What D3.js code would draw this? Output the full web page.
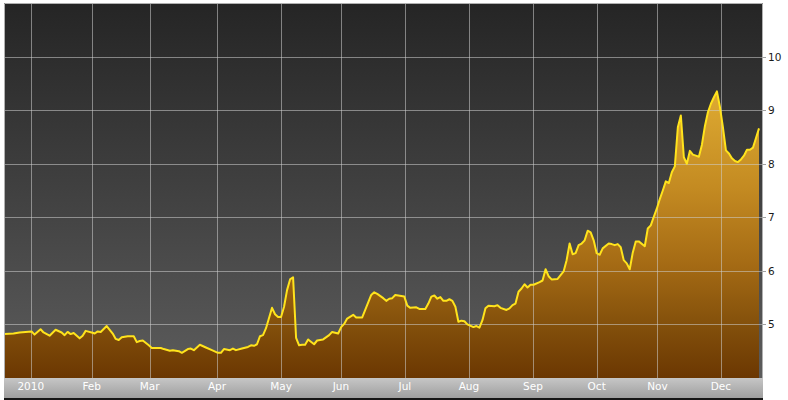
<!DOCTYPE html>
<html><head><meta charset="utf-8">
<script src="https://cdn.jsdelivr.net/npm/d3@7/dist/d3.min.js"></script>
<style>html,body{margin:0;padding:0;background:#fff;}svg{display:block}</style>
</head><body>
<svg id="c" width="788" height="400"></svg>
<script>
// trading-day index of each reading and the value read
const dayIdx = [0,3,5,7,9,10,12,13,15,17,19,20,21,22,23,25,26,27,29,30,31,32,34,36,37,38,39,41,43,44,45,46,48,49,52,53,55,56,58,59,61,62,63,65,67,69,71,72,73,75,76,77,79,81,82,83,84,85,86,87,89,90,91,92,93,94,95,96,97,98,99,100,101,103,104,106,108,109,111,112,113,114,116,117,119,120,122,123,124,126,127,128,129,130,131,133,134,135,137,138,140,141,142,143,144,145,146,147,148,149,150,151,152,153,154,156,157,158,159,160,161,163,164,165,167,168,169,170,171,172,173,174,175,176,178,179,180,181,182,184,185,186,187,188,189,190,191,192,193,194,195,196,197,198,199,201,202,203,204,205,206,207,208,209,210,211,213,214,215,216,217,218,219,220,221,222,223,224,225,226,227,228,229,230,231,232,233,234,235,236,237,238,239,240,241,242,243,244,245,246,247,248,249,250,251];
const values = [4.82,4.83,4.85,4.86,4.87,4.81,4.91,4.85,4.79,4.90,4.85,4.80,4.86,4.82,4.84,4.74,4.79,4.88,4.85,4.83,4.87,4.86,4.97,4.83,4.73,4.71,4.76,4.78,4.78,4.67,4.69,4.70,4.61,4.56,4.56,4.54,4.51,4.52,4.50,4.47,4.54,4.55,4.52,4.62,4.57,4.52,4.47,4.47,4.54,4.52,4.55,4.52,4.55,4.58,4.61,4.60,4.63,4.78,4.80,4.93,5.31,5.19,5.14,5.14,5.33,5.64,5.84,5.88,4.75,4.61,4.62,4.62,4.72,4.63,4.70,4.72,4.80,4.86,4.83,4.95,5.01,5.11,5.18,5.13,5.13,5.27,5.55,5.60,5.57,5.49,5.44,5.48,5.49,5.55,5.54,5.52,5.35,5.31,5.32,5.29,5.29,5.39,5.52,5.54,5.48,5.51,5.44,5.44,5.47,5.44,5.33,5.05,5.07,5.06,5.00,4.95,4.97,4.94,5.08,5.30,5.35,5.34,5.36,5.31,5.27,5.30,5.36,5.39,5.61,5.67,5.75,5.69,5.74,5.74,5.79,5.82,6.03,5.90,5.84,5.85,5.92,5.99,6.20,6.51,6.31,6.33,6.48,6.51,6.57,6.75,6.72,6.57,6.33,6.30,6.42,6.51,6.50,6.48,6.50,6.44,6.20,6.14,6.03,6.34,6.55,6.55,6.46,6.79,6.85,7.01,7.16,7.34,7.50,7.67,7.64,7.84,7.95,8.68,8.90,8.12,8.00,8.24,8.17,8.15,8.13,8.35,8.70,8.96,9.12,9.24,9.35,9.06,8.68,8.25,8.19,8.10,8.05,8.03,8.08,8.15,8.26,8.26,8.30,8.48,8.66];
const monthLabels = ["2010","Feb","Mar","Apr","May","Jun","Jul","Aug","Sep","Oct","Nov","Dec"];
const monthTickIdx = [8.74,29.0,48.3,70.7,92.0,111.9,133.2,154.5,175.8,197.0,217.2,238.3];
const yTicks = [5,6,7,8,9,10];

const svg = d3.select("#c");
const P = {l:4, t:3, r:763, b:378};
const x = d3.scaleLinear().domain([0, 251]).range([4.5, 759]);
const y = d3.scaleLinear().domain([4, 11]).range([P.b, P.t]);
const data = dayIdx.map((d,i)=>({d, v:values[i]}));

const defs = svg.append("defs");
const bg = defs.append("linearGradient").attr("id","bg").attr("x1",0).attr("x2",0).attr("y1",0).attr("y2",1);
bg.append("stop").attr("offset",0).attr("stop-color","#252525");
bg.append("stop").attr("offset",1).attr("stop-color","#5c5c5c");
const ag = defs.append("linearGradient").attr("id","ag").attr("gradientUnits","userSpaceOnUse")
  .attr("x1",0).attr("x2",0).attr("y1",y(9.5)).attr("y2",P.b);
[[0,"#e0ad33"],[0.35,"#c48b22"],[0.62,"#a46a14"],[0.82,"#83500b"],[1,"#6b3702"]].forEach(s=>
  ag.append("stop").attr("offset",s[0]).attr("stop-color",s[1]));
const band = defs.append("linearGradient").attr("id","band").attr("x1",0).attr("x2",0).attr("y1",0).attr("y2",1);
band.append("stop").attr("offset",0).attr("stop-color","#c6c6c6");
band.append("stop").attr("offset",1).attr("stop-color","#9f9f9f");

svg.append("rect").attr("x",P.l).attr("y",P.t).attr("width",P.r-P.l).attr("height",P.b-P.t).attr("fill","url(#bg)");

svg.append("path").datum(data)
  .attr("d", d3.area().x(d=>x(d.d)).y0(P.b).y1(d=>y(d.v)))
  .attr("fill","url(#ag)");

// grid
const g = svg.append("g");
g.selectAll("line.v").data(monthTickIdx).join("line")
  .attr("x1",d=>Math.round(x(d))+0.5).attr("x2",d=>Math.round(x(d))+0.5)
  .attr("y1",P.t).attr("y2",P.b)
  .attr("stroke","rgba(205,205,205,0.55)").attr("stroke-width",1);
g.selectAll("line.h").data(yTicks).join("line")
  .attr("x1",P.l).attr("x2",P.r)
  .attr("y1",d=>Math.round(y(d))+0.5).attr("y2",d=>Math.round(y(d))+0.5)
  .attr("stroke","rgba(205,205,205,0.55)").attr("stroke-width",1);
g.selectAll("line.t").data(yTicks).join("line")
  .attr("x1",P.r).attr("x2",P.r+3)
  .attr("y1",d=>Math.round(y(d))+0.5).attr("y2",d=>Math.round(y(d))+0.5)
  .attr("stroke","#a0a0a0").attr("stroke-width",1);

svg.append("path").datum(data)
  .attr("d", d3.line().x(d=>x(d.d)).y(d=>y(d.v)))
  .attr("fill","none").attr("stroke","#ffe31c").attr("stroke-width",2)
  .attr("stroke-linejoin","round");

// border
svg.append("path").attr("d",`M${P.l+0.5},${P.b}V${P.t+0.5}H${P.r-0.5}V${P.b}`)
  .attr("fill","none").attr("stroke","#b0b0b0");

// axis band
svg.append("rect").attr("x",P.l).attr("y",P.b).attr("width",P.r-P.l).attr("height",20).attr("fill","url(#band)");
svg.append("rect").attr("x",P.l).attr("y",P.b+20).attr("width",P.r-P.l).attr("height",2).attr("fill","#161616");

svg.append("g").selectAll("text").data(monthTickIdx).join("text")
  .attr("x",d=>x(d)).attr("y",390)
  .attr("text-anchor","middle")
  .attr("font-family","DejaVu Sans, Verdana, sans-serif").attr("font-size","10.5px")
  .attr("fill","#ffffff")
  .text((d,i)=>monthLabels[i]);

svg.append("g").selectAll("text").data(yTicks).join("text")
  .attr("x",P.r+5).attr("y",d=>y(d)+4)
  .attr("font-family","DejaVu Sans, Verdana, sans-serif").attr("font-size","10.5px")
  .attr("fill","#1a1a1a")
  .text(d=>d);
</script>
</body></html>
